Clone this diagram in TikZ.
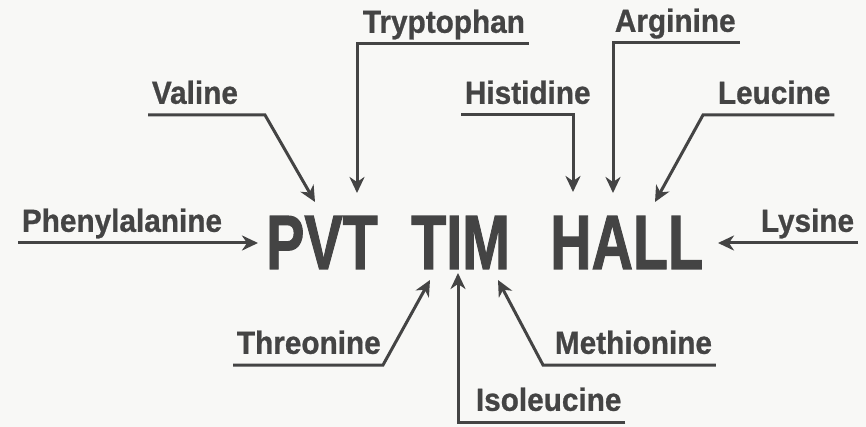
\documentclass[tikz,border=0pt]{standalone}
\usepackage{fontspec}
\setmainfont{Liberation Sans}
\newfontfamily\labelfont[FakeBold=0.8]{Liberation Sans Bold}
\newfontfamily\codefont[FakeBold=1.6]{Liberation Sans Bold}
\usetikzlibrary{arrows.meta}
\definecolor{inkgray}{RGB}{68,68,68}
\definecolor{papergray}{RGB}{248,248,246}

\begin{document}
\begin{tikzpicture}[
        x=1pt, y=-1pt,
        amino/.style={anchor=south west, inner xsep=4pt, inner ysep=11pt, text depth=0pt, text=inkgray, xscale=0.93, font=\fontsize{32}{32}\labelfont},
        code/.style={anchor=base west, inner sep=0pt, text=inkgray, xscale=0.745, font=\fontsize{77}{77}\codefont},
        arrow/.style={-{Stealth[length=16pt, width=15pt, inset=5pt]}, line width=3pt, draw=inkgray, line join=miter}
    ]
        \fill[papergray] (0,0) rectangle (866,427);
        \useasboundingbox (0,0) rectangle (866,427);

        \node[code] (pvt) at (266,269) {PVT};
        \node[code] (tim) at (411,269) {TIM};
        \node[code] (hall) at (550,269) {HALL};

        \node[amino] (phe) at (18,243) {Phenylalanine};
        \node[amino] (val) at (148,115) {Valine};
        \node[amino] (try) at (359,44) {Tryptophan};
        \node[amino] (his) at (461,115) {Histidine};
        \node[amino] (arg) at (611,43) {Arginine};
        \node[amino] (leu) at (714,115) {Leucine};
        \node[amino] (lys) at (757,243) {Lysine};
        \node[amino] (thr) at (233,365) {Threonine};
        \node[amino] (met) at (551,365) {Methionine};
        \node[amino] (iso) at (472,422) {Isoleucine};

        \coordinate (valbend) at (265,115);
        \coordinate (trybend) at (357,44);
        \coordinate (hisbend) at (573,115);
        \coordinate (argbend) at (613,43);
        \coordinate (leubend) at (703,115);
        \coordinate (thrbend) at (383,365);
        \coordinate (metbend) at (543,365);
        \coordinate (isobend) at (458,422);

        \coordinate (phetip) at (258,243);
        \coordinate (valtip) at (315,202);
        \coordinate (trytip) at (357,193);
        \coordinate (histip) at (573,192);
        \coordinate (argtip) at (613,193);
        \coordinate (leutip) at (655,202);
        \coordinate (lystip) at (718,243);
        \coordinate (thrtip) at (430,280);
        \coordinate (mettip) at (498,280);
        \coordinate (isotip) at (458,273);

        \draw[arrow] (phe.south west) -- (phetip);
        \draw[arrow] (val.south west) -- (valbend) -- (valtip);
        \draw[arrow] (try.south east) -- (trybend) -- (trytip);
        \draw[arrow] (his.south west) -- (hisbend) -- (histip);
        \draw[arrow] (arg.south east) -- (argbend) -- (argtip);
        \draw[arrow] (leu.south east) -- (leubend) -- (leutip);
        \draw[arrow] (lys.south east) -- (lystip);
        \draw[arrow] (thr.south west) -- (thrbend) -- (thrtip);
        \draw[arrow] (met.south east) -- (metbend) -- (mettip);
        \draw[arrow] (iso.south east) -- (isobend) -- (isotip);
    \end{tikzpicture}
\end{document}
